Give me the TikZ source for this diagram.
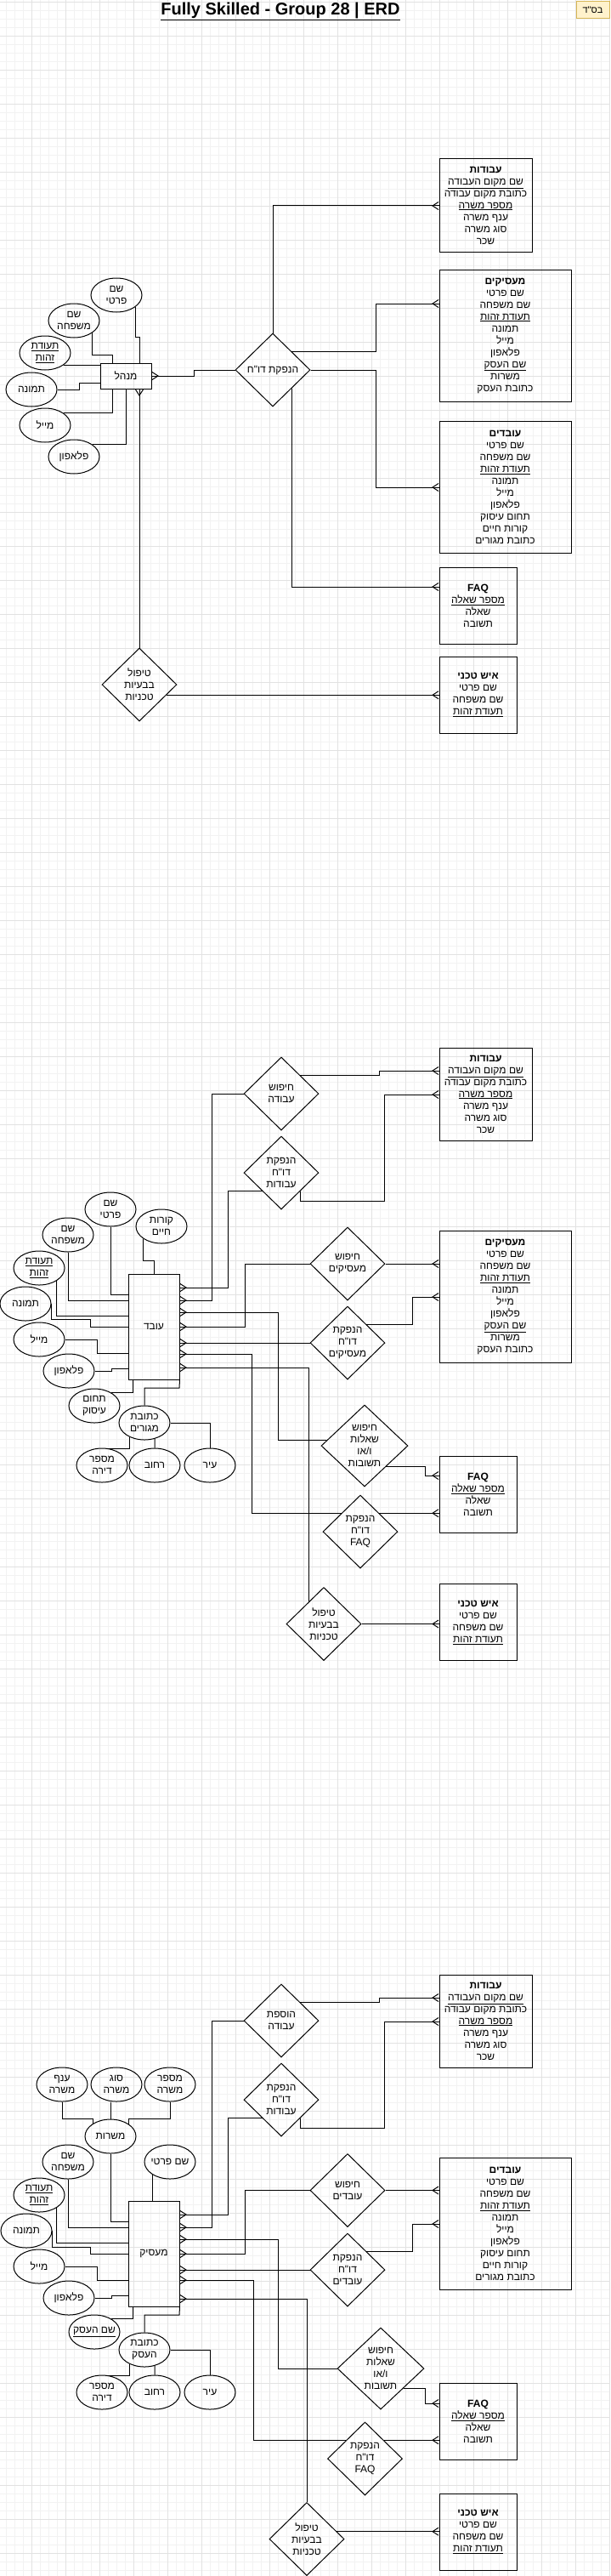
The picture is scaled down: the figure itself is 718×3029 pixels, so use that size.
\documentclass[tikz,border=0pt]{standalone}
\usepackage{fontspec}
\setmainfont{Liberation Sans}
\newfontfamily\hebfont[Script=Hebrew]{Liberation Sans}
\TeXXeTstate=1
\usetikzlibrary{shapes.geometric,arrows.meta}
\definecolor{gridminor}{RGB}{242,242,242}
\definecolor{gridmajor}{RGB}{226,226,226}
\definecolor{notefill}{RGB}{255,242,204}
\definecolor{notedraw}{RGB}{214,182,86}
\newcommand{\he}[1]{{\hebfont\beginR#1\endR}}
\newcommand{\hu}[1]{\underline{\he{#1}}}
\newcommand{\ersize}{\fontsize{12}{14}\selectfont}
\newcommand{\jobstext}{\textbf{\he{עבודות}}\\\hu{שם מקום העבודה}\\\he{כתובת מקום עבודה}\\\hu{מספר משרה}\\\he{ענף משרה}\\\he{סוג משרה}\\\he{שכר}}
\newcommand{\emptext}{\textbf{\he{מעסיקים}}\\\he{שם פרטי}\\\he{שם משפחה}\\\hu{תעודת זהות}\\\he{תמונה}\\\he{מייל}\\\he{פלאפון}\\\hu{שם העסק}\\\he{משרות}\\\he{כתובת העסק}}
\newcommand{\wrktext}{\textbf{\he{עובדים}}\\\he{שם פרטי}\\\he{שם משפחה}\\\hu{תעודת זהות}\\\he{תמונה}\\\he{מייל}\\\he{פלאפון}\\\he{תחום עיסוק}\\\he{קורות חיים}\\\he{כתובת מגורים}}
\newcommand{\faqtext}{\textbf{FAQ}\\\hu{מספר שאלה}\\\he{שאלה}\\\he{תשובה}}
\newcommand{\techtext}{\textbf{\he{איש טכני}}\\\he{שם פרטי}\\\he{שם משפחה}\\\hu{תעודת זהות}}
\newcommand{\fixtext}{\he{טיפול}\\\he{בבעיות}\\\he{טכניות}}
\newcommand{\qatext}{\he{חיפוש}\\\he{שאלות}\\\he{ו/או}\\\he{תשובות}}
\tikzset{
  ent/.style={draw, rectangle, inner sep=0pt, align=center, font=\ersize},
  jobbox/.style={ent, minimum width=109pt, minimum height=109pt},
  bigbox/.style={ent, minimum width=155pt, minimum height=155pt},
  smallbox/.style={ent, minimum width=91pt, minimum height=90pt},
  tallbox/.style={ent, minimum width=60pt, minimum height=124pt},
  attr/.style={draw, ellipse, minimum width=60pt, minimum height=40pt, inner sep=-5pt, align=center, font=\ersize},
  rel/.style={draw, diamond, minimum width=88pt, minimum height=86pt, inner sep=-3pt, align=center, font=\ersize},
  many/.style={-{Straight Barb[reversed,length=7pt,width=9pt]}, postaction={draw,-}},
  minorline/.style={gridminor, line width=0.8pt},
  majorline/.style={gridmajor, line width=0.8pt}
}
\begin{document}
\begin{tikzpicture}[x=1pt, y=-1pt, line width=1pt]
  \useasboundingbox (0,0) rectangle (718,3029);
  \foreach \i in {0,...,72} \draw[minorline] ({\i*10-2.5},0) -- ({\i*10-2.5},3029);
  \foreach \i in {0,...,303} \draw[minorline] (0,{\i*10+2.3}) -- (718,{\i*10+2.3});
  \foreach \i in {0,...,18} \draw[majorline] ({\i*40-2.5},0) -- ({\i*40-2.5},3029);
  \foreach \i in {0,...,75} \draw[majorline] (0,{\i*40+2.3}) -- (718,{\i*40+2.3});

  \node[font=\fontsize{20}{24}\selectfont\bfseries] (title) at (330,13) {\underline{Fully Skilled - Group 28 | ERD}};
  \node[draw=notedraw, fill=notefill, minimum width=39pt, minimum height=20pt, inner sep=0pt, font=\fontsize{11}{12}\selectfont] (bsd) at (697.5,12) {\he{בס"ד}};

  \node[jobbox] (jobs1) at (571.5,241.5) {\jobstext};
  \node[bigbox] (emp1) at (594.5,394.5) {\emptext};
  \node[bigbox] (wrk1) at (594.5,573) {\wrktext};
  \node[smallbox] (faq1) at (562.5,712.5) {\faqtext};
  \node[smallbox] (tech1) at (562.5,817) {\techtext};
  \node[ent, minimum width=60pt, minimum height=30pt] (mgr) at (148,442) {\he{מנהל}};
  \node[rel] (rep1) at (321,435) {\he{הנפקת דו"ח}};
  \node[rel] (fix1) at (164,805) {\fixtext};
  \node[attr] (fn1) at (137,347) {\he{שם}\\\he{פרטי}};
  \node[attr] (ln1) at (87,377) {\he{שם}\\\he{משפחה}};
  \node[attr] (id1) at (53,415) {\hu{תעודת}\\\hu{זהות}};
  \node[attr] (pic1) at (37,458) {\he{תמונה}};
  \node[attr] (mail1) at (53,500) {\he{מייל}};
  \node[attr] (ph1) at (87,537) {\he{פלאפון}};

  \draw[many] (rep1.north) |- (jobs1.west |- 0,242);
  \draw[many] (rep1.north east) -| (442,357) -- (emp1.west |- 0,357);
  \draw[many] (rep1.east) -| (442,573) -- (wrk1.west);
  \draw[many] (rep1.south east) |- (faq1.west |- 0,690);
  \draw[many] (rep1.west) -| (228,442) -- (mgr.east);
  \draw[many] (fix1.north) -- (mgr.south -| fix1.north);
  \draw[many] (fix1.-21) -- (fix1.-21 -| tech1.west);
  \draw (fn1.-32) -- ++(0,36) -| (mgr.north -| 164,0);
  \draw (ln1.-33) |- (132,417) -- (mgr.north -| 132,0);
  \draw (id1.-33) -- (id1.-33 -| mgr.west);
  \draw (pic1.east) -| (93,450) -- (mgr.west |- 0,450);
  \draw (mail1.33) -| (mgr.south -| 132,0);
  \draw (ph1.33) -| (mgr.south);

  \node[jobbox] (jobs2) at (571.5,1286.5) {\jobstext};
  \node[bigbox] (emp2) at (594.5,1525) {\emptext};
  \node[smallbox] (faq2) at (562.5,1757) {\faqtext};
  \node[smallbox] (tech2) at (562.5,1907.5) {\techtext};
  \node[tallbox] (wkr) at (181,1560) {\he{עובד}};
  \node[rel] (srchjob) at (331,1286) {\he{חיפוש}\\\he{עבודה}};
  \node[rel] (repjob2) at (331,1379) {\he{הנפקת}\\\he{דו"ח}\\\he{עבודות}};
  \node[rel] (srchemp) at (409,1486) {\he{חיפוש}\\\he{מעסיקים}};
  \node[rel] (repemp) at (409,1579) {\he{הנפקת}\\\he{דו"ח}\\\he{מעסיקים}};
  \node[rel, minimum width=102pt, minimum height=96pt] (srchfaq2) at (429,1700) {\qatext};
  \node[rel] (repfaq2) at (424,1801) {\he{הנפקת}\\\he{דו"ח}\\FAQ};
  \node[rel] (fix2) at (381,1909.5) {\fixtext};
  \node[attr] (fn2) at (130,1422) {\he{שם}\\\he{פרטי}};
  \node[attr] (ln2) at (80,1452) {\he{שם}\\\he{משפחה}};
  \node[attr] (cv2) at (190,1442) {\he{קורות}\\\he{חיים}};
  \node[attr] (id2) at (46,1491) {\hu{תעודת}\\\hu{זהות}};
  \node[attr] (pic2) at (30,1533) {\he{תמונה}};
  \node[attr] (mail2) at (46,1575) {\he{מייל}};
  \node[attr] (ph2) at (81,1612) {\he{פלאפון}};
  \node[attr] (occ2) at (111,1653) {\he{תחום}\\\he{עיסוק}};
  \node[attr] (addr2) at (170,1673) {\he{כתובת}\\\he{מגורים}};
  \node[attr] (apt2) at (120,1723) {\he{מספר}\\\he{דירה}};
  \node[attr] (st2) at (182,1723) {\he{רחוב}};
  \node[attr] (city2) at (247,1723) {\he{עיר}};

  \draw[many] (srchjob.north east) -| (446,1259) -- (jobs2.west |- 0,1259);
  \draw[many] (repjob2.south east) |- (452,1412) |- (jobs2.west |- 0,1287);
  \draw[many] (srchjob.west) -| (249,1529) -- (wkr.east |- 0,1529);
  \draw[many] (repjob2.south west) -| (268,1514) -- (wkr.east |- 0,1514);
  \draw[many] (srchemp.west) -| (288,1560) -- (wkr.east);
  \draw[many] (srchemp.east) -- (srchemp.east -| emp2.west);
  \draw[many] (repemp.west) -- (repemp.west -| wkr.east);
  \draw[many] (repemp.north east) -| (485,1525) -- (emp2.west);
  \draw[many] (srchfaq2.172) -| (327,1543) -- (wkr.east |- 0,1543);
  \draw[many] (srchfaq2.-44) -| (500,1735) -- (faq2.west |- 0,1735);
  \draw[many] (repfaq2.north west) -| (296,1592) -- (wkr.east |- 0,1592);
  \draw[many] (repfaq2.north east) -- (repfaq2.north east -| faq2.west);
  \draw[many] (fix2.123) |- (wkr.east |- 0,1608);
  \draw[many] (fix2.east) -- (fix2.east -| tech2.west);
  \draw (fn2.south) |- (wkr.west |- 0,1522);
  \draw (ln2.south) |- (wkr.west |- 0,1529);
  \draw (cv2.214) |- (181,1482) -- (wkr.north);
  \draw (id2.-37) |- (wkr.west |- 0,1547);
  \draw (pic2.east) |- (106,1551) |- (wkr.west |- 0,1560);
  \draw (mail2.east) -| (114,1591) -- (wkr.west |- 0,1591);
  \draw (ph2.east) -| (131,1609) -- (wkr.west |- 0,1609);
  \draw (occ2.37) -| (wkr.south -| 156,0);
  \draw (addr2.north) |- (211,1632) -- (wkr.south east);
  \draw (addr2.-135) |- (apt2.70);
  \draw (addr2.-57) -- (st2.north);
  \draw (addr2.east) -| (city2.north);

  \node[jobbox] (jobs3) at (571.5,2376.5) {\jobstext};
  \node[bigbox] (wrk3) at (594.5,2614.5) {\wrktext};
  \node[smallbox] (faq3) at (562.5,2847) {\faqtext};
  \node[smallbox] (tech3) at (562.5,2977) {\techtext};
  \node[tallbox] (emplr) at (181,2650) {\he{מעסיק}};
  \node[rel] (addjob) at (331,2376) {\he{הוספת}\\\he{עבודה}};
  \node[rel] (repjob3) at (331,2469) {\he{הנפקת}\\\he{דו"ח}\\\he{עבודות}};
  \node[rel] (srchwrk) at (409,2575.5) {\he{חיפוש}\\\he{עובדים}};
  \node[rel] (repwrk) at (409,2669) {\he{הנפקת}\\\he{דו"ח}\\\he{עובדים}};
  \node[rel, minimum width=102pt, minimum height=96pt] (srchfaq3) at (448,2785) {\qatext};
  \node[rel] (repfaq3) at (429.5,2891) {\he{הנפקת}\\\he{דו"ח}\\FAQ};
  \node[rel] (fix3) at (361,2985.5) {\fixtext};
  \node[attr] (mis) at (130,2512) {\he{משרות}};
  \node[attr] (branch) at (73,2451) {\he{ענף}\\\he{משרה}};
  \node[attr] (jtype) at (137,2451) {\he{סוג}\\\he{משרה}};
  \node[attr] (jnum) at (200,2451) {\he{מספר}\\\he{משרה}};
  \node[attr] (ln3) at (80,2542) {\he{שם}\\\he{משפחה}};
  \node[attr] (fn3) at (200,2542) {\he{שם פרטי}};
  \node[attr] (id3) at (46,2581) {\hu{תעודת}\\\hu{זהות}};
  \node[attr] (pic3) at (31,2623) {\he{תמונה}};
  \node[attr] (mail3) at (46,2665) {\he{מייל}};
  \node[attr] (ph3) at (81,2702) {\he{פלאפון}};
  \node[attr] (bname) at (111,2742) {\hu{שם העסק}};
  \node[attr] (baddr) at (170,2763) {\he{כתובת}\\\he{העסק}};
  \node[attr] (apt3) at (120,2813) {\he{מספר}\\\he{דירה}};
  \node[attr] (st3) at (182,2813) {\he{רחוב}};
  \node[attr] (city3) at (247,2813) {\he{עיר}};

  \draw[many] (addjob.north east) -| (446,2349) -- (jobs3.west |- 0,2349);
  \draw[many] (repjob3.south east) |- (452,2502) |- (jobs3.west |- 0,2377);
  \draw[many] (addjob.west) -| (249,2619) -- (emplr.east |- 0,2619);
  \draw[many] (repjob3.south west) -| (268,2604) -- (emplr.east |- 0,2604);
  \draw[many] (srchwrk.west) -| (288,2650) -- (emplr.east);
  \draw[many] (srchwrk.east) -- (srchwrk.east -| wrk3.west);
  \draw[many] (repwrk.west) -- (repwrk.west -| emplr.east);
  \draw[many] (repwrk.north east) -| (485,2615) -- (wrk3.west |- 0,2615);
  \draw[many] (srchfaq3.west) -| (327,2633) -- (emplr.east |- 0,2633);
  \draw[many] (srchfaq3.-41) -| (500,2826) -- (faq3.west |- 0,2826);
  \draw[many] (repfaq3.north west) -| (298,2681) -- (emplr.east |- 0,2681);
  \draw[many] (repfaq3.north east) -- (repfaq3.north east -| faq3.west);
  \draw[many] (fix3.north) |- (emplr.east |- 0,2703);
  \draw[many] (fix3.14) -- (fix3.14 -| tech3.west);
  \draw (mis.south) |- (emplr.west |- 0,2612);
  \draw (branch.south) |- (mis.143 |- 0,2491) -- (mis.143);
  \draw (jtype.south -| mis.north) -- (mis.north);
  \draw (jnum.south) |- (mis.34 |- 0,2491) -- (mis.34);
  \draw (ln3.south) |- (emplr.west |- 0,2619);
  \draw (fn3.217) -- (fn3.217 |- emplr.north);
  \draw (id3.-37) |- (emplr.west |- 0,2637);
  \draw (pic3.east) |- (106,2642) |- (emplr.west |- 0,2650);
  \draw (mail3.east) -| (114,2681) -- (emplr.west |- 0,2681);
  \draw (ph3.east) -| (131,2699) -- (emplr.west |- 0,2699);
  \draw (bname.37) -| (emplr.south -| 156,0);
  \draw (baddr.north) |- (211,2722) -- (emplr.south east);
  \draw (baddr.-135) |- (apt3.70);
  \draw (baddr.-57) -- (st3.north);
  \draw (baddr.east) -| (city3.north);
\end{tikzpicture}
\end{document}
